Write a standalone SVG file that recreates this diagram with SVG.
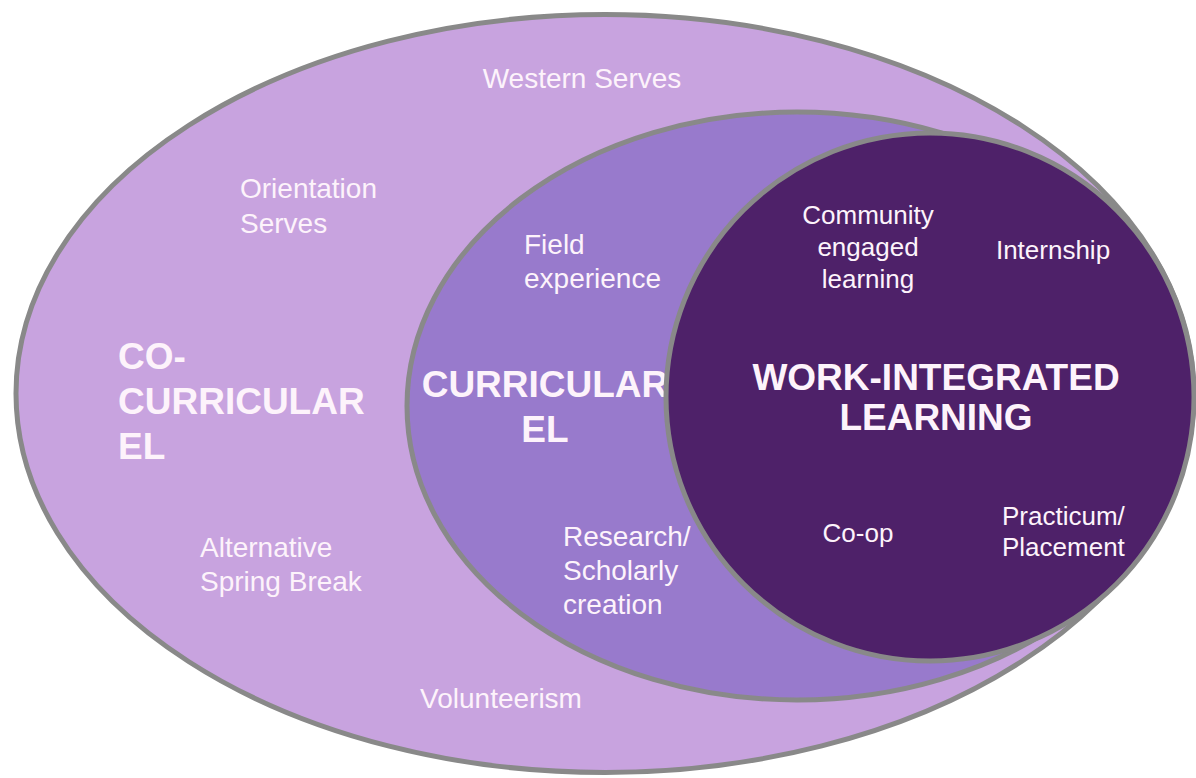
<svg xmlns="http://www.w3.org/2000/svg" width="1196" height="778" viewBox="0 0 1196 778">
<style>
.ring{stroke:#898989;stroke-width:5}
.t{font-family:"Liberation Sans",Arial,sans-serif;fill:#fdf3fb}
.s{font-size:28px}
.d{font-size:26px}
.b{font-size:37px;font-weight:bold}
</style>
<rect width="1196" height="778" fill="#ffffff"/>
<g id="co-curricular">
<ellipse class="ring" cx="605" cy="393.5" rx="589" ry="379" fill="#c8a3df"/>
<text class="t s" x="582" y="88" text-anchor="middle">Western Serves</text>
<text class="t s" x="240" y="198">Orientation</text>
<text class="t s" x="240" y="233">Serves</text>
<text class="t b" x="118" y="369">CO-</text>
<text class="t b" x="118" y="414">CURRICULAR</text>
<text class="t b" x="118" y="459">EL</text>
<text class="t s" x="200" y="557">Alternative</text>
<text class="t s" x="200" y="591">Spring Break</text>
<text class="t s" x="501" y="708" text-anchor="middle">Volunteerism</text>
</g>
<g id="curricular">
<ellipse class="ring" cx="797" cy="406" rx="390" ry="294" fill="#987acc"/>
<text class="t s" x="524" y="254">Field</text>
<text class="t s" x="524" y="288">experience</text>
<text class="t b" x="545" y="397" text-anchor="middle">CURRICULAR</text>
<text class="t b" x="545" y="442" text-anchor="middle">EL</text>
<text class="t s" x="563" y="546">Research/</text>
<text class="t s" x="563" y="580">Scholarly</text>
<text class="t s" x="563" y="614">creation</text>
</g>
<g id="wil">
<circle class="ring" cx="930" cy="397" r="264" fill="#4e2169"/>
<text class="t d" x="868" y="224" text-anchor="middle">Community</text>
<text class="t d" x="868" y="256" text-anchor="middle">engaged</text>
<text class="t d" x="868" y="288" text-anchor="middle">learning</text>
<text class="t d" x="1053" y="259" text-anchor="middle">Internship</text>
<text class="t b" x="936" y="390" text-anchor="middle">WORK-INTEGRATED</text>
<text class="t b" x="936" y="430" text-anchor="middle">LEARNING</text>
<text class="t d" x="858" y="542" text-anchor="middle">Co-op</text>
<text class="t d" x="1002" y="525">Practicum/</text>
<text class="t d" x="1002" y="556">Placement</text>
</g>
<g id="connectors"></g>
</svg>
